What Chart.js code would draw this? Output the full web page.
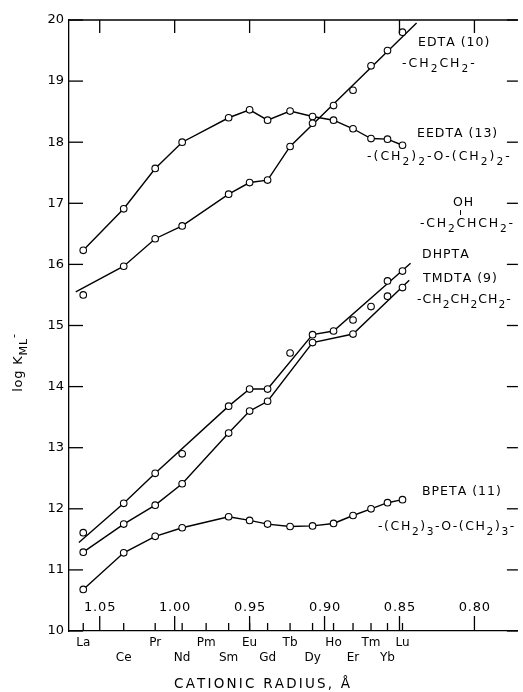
<!DOCTYPE html>
<html>
<head>
<meta charset="utf-8">
<script src="https://cdn.jsdelivr.net/npm/chart.js@4"></script>
<style>
  body { margin: 0; background: #fff; }
</style>
</head>
<body>
<canvas id="chart-area" width="523" height="692"></canvas>
<script>
// lanthanide ions and their radii (Angstrom)
var ions = ["La","Ce","Pr","Nd","Pm","Sm","Eu","Gd","Tb","Dy","Ho","Er","Tm","Yb","Lu"];
var radius = [1.061,1.034,1.013,0.995,0.979,0.964,0.950,0.938,0.923,0.908,0.894,0.881,0.869,0.858,0.848];
var radiusTicks = [1.05,1.00,0.95,0.90,0.85,0.80];
var logKTicks = [10,11,12,13,14,15,16,17,18,19,20];

// measured log K values (null = not measured)
var edta  = [15.50,15.97,16.42,16.63,null,17.15,17.34,17.38,17.93,18.31,18.60,18.85,19.25,19.50,19.80];
var eedta = [16.23,16.91,17.57,18.00,null,18.40,18.53,18.36,18.51,18.42,18.36,18.22,18.06,18.05,17.95];
var dhpta = [11.61,12.09,12.58,12.90,null,13.68,13.96,13.96,14.55,14.85,14.91,15.09,15.31,15.73,15.89];
var tmdta = [11.29,11.75,12.06,12.41,null,13.24,13.60,13.76,null,14.72,null,14.86,null,15.48,15.62];
var bpeta = [10.68,11.28,11.55,11.69,null,11.87,11.81,11.75,11.71,11.72,11.76,11.89,12.00,12.10,12.15];

// hand drawn curves through the data
var edtaFitR  = [1.066,1.034,1.013,0.995,0.964,0.950,0.938,0.923,0.8386];
var edtaFitV  = [15.55,15.97,16.42,16.63,17.15,17.34,17.38,17.93,19.95];
var dhptaFitR = [1.0639,1.034,1.013,0.964,0.950,0.938,0.908,0.894,0.8426];
var dhptaFitV = [11.45,12.09,12.58,13.68,13.96,13.96,14.85,14.91,16.02];
var tmdtaFitR = [1.061,1.034,1.013,0.995,0.964,0.950,0.938,0.908,0.881,0.8435];
var tmdtaFitV = [11.29,11.75,12.06,12.41,13.24,13.60,13.76,14.72,14.86,15.74];

var FONT = "DejaVu Sans";

function pts(rs, vs) {
    var out = [];
    for (var i = 0; i < rs.length; i++) {
        if (vs[i] != null) out.push({x: rs[i], y: vs[i]});
    }
    return out;
}
function markers(vs) {
    return {
        data: pts(radius, vs), showLine: false, order: 0,
        pointRadius: 3.3, pointBackgroundColor: "#fff", pointBorderColor: "#000", pointBorderWidth: 1.1
    };
}
function curve(rs, vs) {
    return {
        data: pts(rs, vs), showLine: true, order: 1, pointRadius: 0,
        borderColor: "#000", borderWidth: 1.4, tension: 0
    };
}

// draw a string with "_x" subscripts and "^x" superscripts, spaced like stencil lettering
function letter(ctx, str, x, y, size, sp, align) {
    var parts = [];
    for (var i = 0; i < str.length; i++) {
        var ch = str[i], k = 0;
        if (ch === "_") { ch = str[++i]; k = 1; }
        else if (ch === "^") { ch = str[++i]; k = 2; }
        parts.push([ch, k]);
    }
    var w = 0;
    parts.forEach(function (p) {
        ctx.font = (p[1] ? size * 0.85 : size) + "px " + FONT;
        p.push(ctx.measureText(p[0]).width);
        w += p[2] + sp;
    });
    w -= sp;
    var cx = align === "center" ? x - w / 2 : x;
    ctx.textAlign = "left";
    ctx.textBaseline = "middle";
    parts.forEach(function (p) {
        ctx.font = (p[1] ? size * 0.85 : size) + "px " + FONT;
        var dy = p[1] === 1 ? size * 0.42 : (p[1] === 2 ? -size * 0.35 : 0);
        ctx.fillText(p[0], cx, y + dy);
        cx += p[2] + sp;
    });
}

var frame = {
    id: "frame",
    afterDraw: function (chart) {
        var ctx = chart.ctx, a = chart.chartArea, x = chart.scales.x, y = chart.scales.y;
        ctx.save();
        ctx.strokeStyle = "#000";
        ctx.fillStyle = "#000";
        ctx.lineWidth = 1.3;
        function seg(x1, y1, x2, y2) {
            ctx.beginPath(); ctx.moveTo(x1, y1); ctx.lineTo(x2, y2); ctx.stroke();
        }
        seg(a.left, a.top, a.right, a.top);
        logKTicks.forEach(function (v) {
            var py = y.getPixelForValue(v);
            seg(a.left, py, a.left + 14, py);
            seg(a.right - 11, py, a.right, py);
        });
        radius.forEach(function (r) {
            var px = x.getPixelForValue(r);
            seg(px, a.bottom, px, a.bottom - 8);
        });
        radiusTicks.forEach(function (r) {
            var px = x.getPixelForValue(r);
            seg(px, a.bottom, px, a.bottom - 15);
            seg(px, a.top, px, a.top + 13);
            letter(ctx, r.toFixed(2), px, a.bottom - 23, 13, 0.8, "center");
        });

        // curve labels
        letter(ctx, "EDTA (10)", 418, 43, 12.5, 1.0);
        letter(ctx, "-CH_2CH_2-", 402, 64, 12.5, 2.0);
        letter(ctx, "EEDTA (13)", 417, 134, 12.5, 1.0);
        letter(ctx, "-(CH_2)_2-O-(CH_2)_2-", 367, 157, 12.5, 2.0);
        letter(ctx, "OH", 453, 203, 12.5, 1.0);
        ctx.lineWidth = 1;
        seg(460.5, 210, 460.5, 215);
        letter(ctx, "-CH_2CHCH_2-", 420, 224, 12.5, 1.8);
        letter(ctx, "DHPTA", 422, 255, 12.5, 1.0);
        letter(ctx, "TMDTA (9)", 423, 279, 12.5, 1.0);
        letter(ctx, "-CH_2CH_2CH_2-", 417, 300, 12.5, 1.0);
        letter(ctx, "BPETA (11)", 422, 492, 12.5, 1.0);
        letter(ctx, "-(CH_2)_3-O-(CH_2)_3-", 378, 527, 12.5, 1.6);

        // axis titles
        letter(ctx, "CATIONIC RADIUS, Å", 262, 684, 13.5, 2.2, "center");
        ctx.translate(19, 363);
        ctx.rotate(-Math.PI / 2);
        letter(ctx, "log K_M_L^-", 0, 0, 13, 0.8, "center");
        ctx.restore();
    }
};

var config = {
    type: "scatter",
    data: {
        datasets: [
            curve(edtaFitR, edtaFitV),
            curve(radius, eedta),
            curve(dhptaFitR, dhptaFitV),
            curve(tmdtaFitR, tmdtaFitV),
            curve(radius, bpeta),
            markers(edta), markers(eedta), markers(dhpta), markers(tmdta), markers(bpeta)
        ]
    },
    options: {
        responsive: false,
        animation: false,
        layout: { padding: { top: 20, right: 0, left: 0, bottom: 0 } },
        plugins: { legend: { display: false }, tooltip: { enabled: false } },
        scales: {
            x: {
                type: "linear", reverse: true, min: 0.771, max: 1.0705,
                afterBuildTicks: function (s) { s.ticks = radius.map(function (r) { return {value: r}; }); },
                afterFit: function (s) { s.height = 61; },
                grid: { display: false, drawTicks: false },
                border: { display: true, color: "#000", width: 1.3 },
                ticks: {
                    autoSkip: false, maxRotation: 0, padding: 5, color: "#000",
                    font: { family: FONT, size: 12 },
                    callback: function (v, i) { return i % 2 === 0 ? ions[i] : ["", ions[i]]; }
                }
            },
            y: {
                min: 10, max: 20,
                afterFit: function (s) { s.width = 69; },
                grid: { display: false, drawTicks: false },
                border: { display: true, color: "#000", width: 1.3 },
                ticks: { stepSize: 1, padding: 5, color: "#000", font: { family: FONT, size: 13 } }
            }
        }
    },
    plugins: [frame]
};

var ctx = document.getElementById("chart-area").getContext("2d");
var myChart = new Chart(ctx, config);
</script>
</body>
</html>
